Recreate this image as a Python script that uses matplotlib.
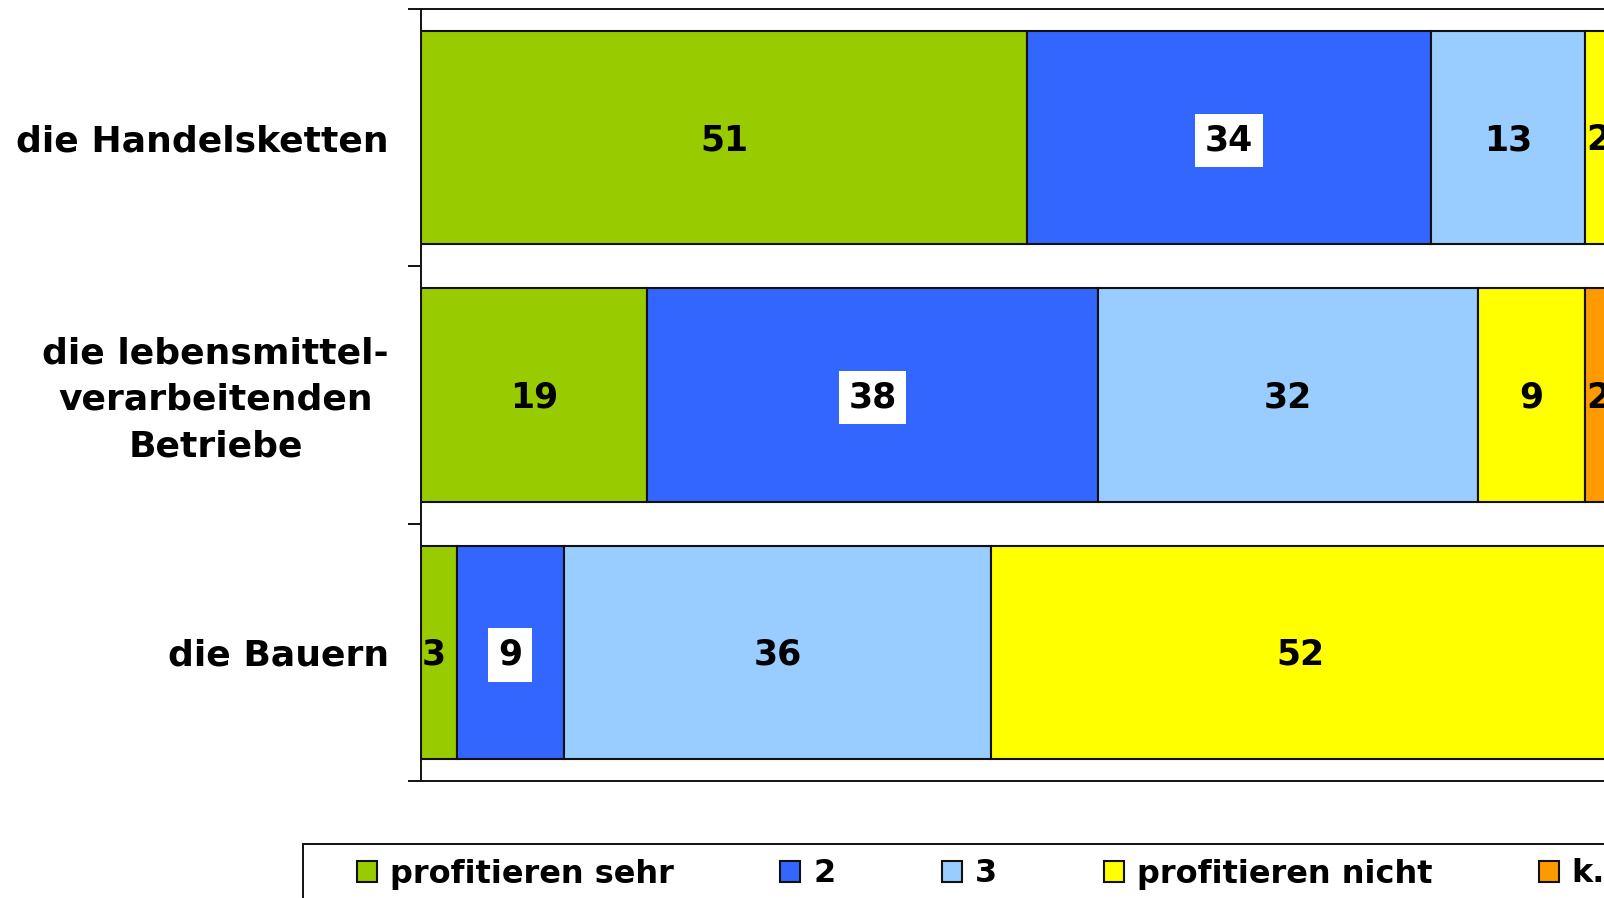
import matplotlib
matplotlib.use('Agg')
import matplotlib.pyplot as plt
from matplotlib.patches import Rectangle
from matplotlib.transforms import ScaledTranslation

categories = ['die Handelsketten', 'die lebensmittel-\nverarbeitenden\nBetriebe', 'die Bauern']
series_names = ['profitieren sehr', '2', '3', 'profitieren nicht', 'k.A.']
sehr = [51, 19, 3]
zwei = [34, 38, 9]
drei = [13, 32, 36]
nicht = [2, 9, 52]
ka = [0, 2, 0]
colors = ['#99CC00', '#3366FF', '#99CCFF', '#FFFF00', '#FF9900']

W, H = 1604, 898
fig = plt.figure(figsize=(W / 100, H / 100), dpi=100)
# plot area runs past the right edge of the picture (the reference is cropped)
ax = fig.add_axes([421 / W, 1 - 781 / H, (1609 - 421) / W, (781 - 9) / H])

ypos = list(range(len(categories)))
left = [0, 0, 0]
for name, vals, col in zip(series_names, [sehr, zwei, drei, nicht, ka], colors):
    bars = ax.barh(ypos, vals, left=left, height=0.83, color=col,
                   edgecolor='#111111', linewidth=1.5, label=name)
    for b, v in zip(bars, vals):
        if v == 0:
            continue
        cy = b.get_y() + b.get_height() / 2 + 0.01
        kw = dict(va='center', fontsize=25, fontweight='bold', color='black')
        if b.get_width() < 4:
            # narrow segment: label starts at the segment's left edge
            cx, kw['ha'] = b.get_x() + 0.05, 'left'
        else:
            cx, kw['ha'] = b.get_x() + b.get_width() / 2, 'center'
        if name == '2':
            kw['bbox'] = dict(boxstyle='square,pad=0.28', facecolor='white', edgecolor='none')
        ax.text(cx, cy, str(v), clip_on=False, **kw)
    left = [l + v for l, v in zip(left, vals)]

ax.set_xlim(0, 100)
ax.set_ylim(2.5, -0.5)
ax.set_xticks([])
ax.set_yticks(ypos)
ax.set_yticklabels(categories, fontsize=26, fontweight='bold',
                   multialignment='center', linespacing=1.46)
ax.set_yticks([-0.5, 0.5, 1.5, 2.5], minor=True)
ax.tick_params(axis='y', which='major', length=0, pad=23)
ax.tick_params(axis='y', which='minor', length=9.5, width=1.4, color='#111111')
for s in ['left', 'top', 'bottom']:
    ax.spines[s].set_linewidth(1.4)
    ax.spines[s].set_color('#111111')
ax.spines['right'].set_visible(False)

# nudge the three-line label up a little
lbl = ax.get_yticklabels()[1]
lbl.set_transform(lbl.get_transform() + ScaledTranslation(0, 0.05, fig.dpi_scale_trans))

# legend box outline (extends past the cropped edges)
fig.patches.append(Rectangle((303 / W, -0.1), 1.0, 1 - 844 / H + 0.1,
                             transform=fig.transFigure, fill=False,
                             edgecolor='#111111', linewidth=1.4))
leg = fig.legend(loc='center left', bbox_to_anchor=(357 / W, 1 - 874 / H), ncol=5,
                 frameon=False, prop={'weight': 'bold', 'size': 23},
                 handlelength=0.62, handleheight=0.62, handletextpad=0.4,
                 columnspacing=3.35, borderpad=0, borderaxespad=0)

fig.savefig('out.png', dpi=100)
